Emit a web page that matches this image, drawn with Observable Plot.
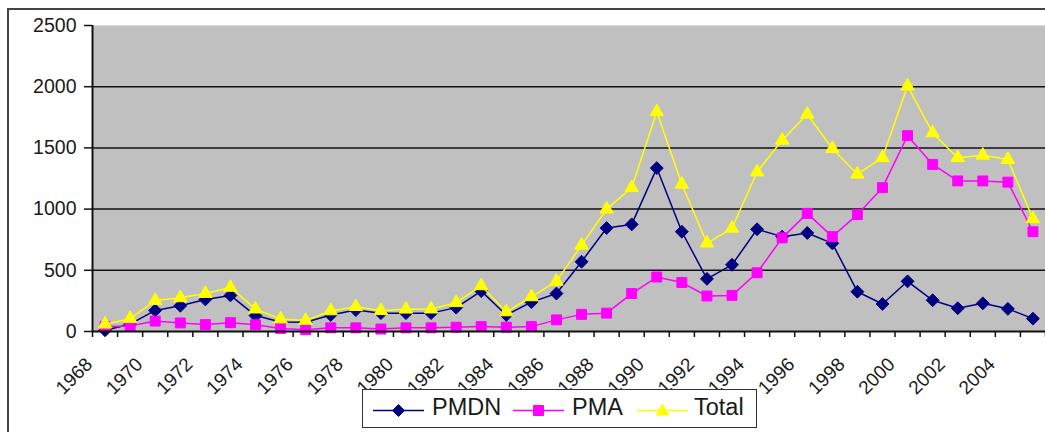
<!DOCTYPE html>
<html>
<head>
<meta charset="utf-8">
<script src="https://cdn.jsdelivr.net/npm/d3@7"></script>
<script src="https://cdn.jsdelivr.net/npm/@observablehq/plot@0.6"></script>
<style>
html, body { margin: 0; padding: 0; background: #fff; overflow: hidden; }
#wrap { position: relative; width: 1045px; height: 432px; overflow: hidden; font-family: "Liberation Sans", Arial, sans-serif; color: #1a1a1a; }
#frame { position: absolute; left: 7px; top: 8px; width: 1100px; height: 500px; border: 2px solid #444; box-sizing: border-box; }
#chart { position: absolute; left: 0; top: 0; }
#legend { position: absolute; left: 362px; top: 389px; width: 395px; height: 39px; border: 1.5px solid #333; box-sizing: border-box; background: #fff; }
#legend .sw { position: absolute; top: 10px; }
#legend .lb { position: absolute; top: 4px; font-size: 23.5px; line-height: 27px; color: #1a1a1a; white-space: nowrap; }
</style>
</head>
<body>
<div id="wrap">
  <div id="frame"></div>
  <div id="chart"></div>
  <div id="legend"></div>
</div>
<script>
// ---- data ----
const years = [1968, 1969, 1970, 1971, 1972, 1973, 1974, 1975, 1976, 1977,
               1978, 1979, 1980, 1981, 1982, 1983, 1984, 1985, 1986, 1987,
               1988, 1989, 1990, 1991, 1992, 1993, 1994, 1995, 1996, 1997,
               1998, 1999, 2000, 2001, 2002, 2003, 2004, 2005];
const pmdn = [10, 60, 172, 210, 262, 295, 130, 78, 75, 135,
              175, 150, 150, 150, 195, 330, 135, 240, 310, 570,
              845, 875, 1335, 815, 430, 545, 835, 775, 805, 720,
              325, 225, 410, 255, 190, 230, 185, 105];
const pma = [40, 45, 85, 70, 57, 72, 55, 25, 15, 30,
             30, 20, 30, 30, 35, 40, 35, 40, 95, 140,
             150, 310, 445, 400, 290, 295, 480, 765, 965, 775,
             955, 1175, 1600, 1365, 1230, 1230, 1220, 815];
const total = [60, 105, 253, 275, 310, 360, 183, 102, 90, 168,
               203, 170, 182, 183, 235, 373, 160, 283, 410, 705,
               1000, 1175, 1795, 1203, 722, 843, 1303, 1562, 1775, 1495,
               1285, 1420, 2005, 1622, 1420, 1440, 1405, 920];
const seriesNames = ["PMDN", "PMA", "Total"];
const yTicks = [0, 500, 1000, 1500, 2000, 2500];
const gridLines = [500, 1000, 1500, 2000];
const xLabels = [1968, 1970, 1972, 1974, 1976, 1978, 1980, 1982, 1984, 1986,
                 1988, 1990, 1992, 1994, 1996, 1998, 2000, 2002, 2004];

// ---- styles ----
const styles = {
  PMDN:  {color: "#000080", symbol: "diamond2", r: 5.8},
  PMA:   {color: "#FF00FF", symbol: "square",   r: 5.6},
  Total: {color: "#FFFF00", symbol: "triangle", r: 5.0}
};
const valuesBySeries = {PMDN: pmdn, PMA: pma, Total: total};

const boundaries = years.map(y => y - 0.5).concat([years[years.length - 1] + 0.5]);

const seriesMarks = seriesNames.flatMap(name => {
  const rows = years.map((y, i) => ({year: y, value: valuesBySeries[name][i]}));
  const s = styles[name];
  return [
    Plot.line(rows, {x: "year", y: "value", stroke: s.color, strokeWidth: 1.5}),
    Plot.dot(rows, {x: "year", y: "value", symbol: s.symbol, r: s.r, fill: s.color, stroke: s.color, strokeWidth: 1})
  ];
});

const chart = Plot.plot({
  width: 1045,
  height: 390,
  marginTop: 25,
  marginBottom: 59,
  marginLeft: 92,
  marginRight: 0,
  style: {fontFamily: "Liberation Sans, Arial, sans-serif", fontSize: "19px", color: "#1a1a1a", background: "transparent", overflow: "visible"},
  x: {domain: [boundaries[0], boundaries[boundaries.length - 1]], label: null},
  y: {domain: [0, 2500], label: null},
  marks: [
    Plot.frame({fill: "#C0C0C0", stroke: "none"}),
    Plot.ruleY(gridLines, {stroke: "#111", strokeWidth: 1.5}),
    ...seriesMarks,
    Plot.ruleY([0], {stroke: "#111", strokeWidth: 2}),
    Plot.ruleX([boundaries[0]], {stroke: "#111", strokeWidth: 2}),
    Plot.axisY({ticks: yTicks, tickFormat: d => String(d), tickSize: 8, tickPadding: 8, fontSize: 19.5, label: null, stroke: "#111", strokeWidth: 1.5}),
    Plot.axisX({ticks: boundaries, tickSize: 6, tickFormat: () => "", label: null, stroke: "#111", strokeWidth: 1.5}),
    Plot.text(xLabels, {x: d => d - 0.5, frameAnchor: "bottom", dx: 1, dy: 34, rotate: -45, textAnchor: "end", text: d => String(d), fontSize: 19, fill: "#1a1a1a"})
  ]
});
document.getElementById("chart").appendChild(chart);

// ---- legend ----
const legend = document.getElementById("legend");
const legendPos = {PMDN: [10, 69], PMA: [150, 209], Total: [274, 331]};
const symPath = {
  PMDN: "M25.5,14.5 L31.5,20.5 L25.5,26.5 L19.5,20.5 Z",
  PMA: "M20.5,15.5 L30.5,15.5 L30.5,25.5 L20.5,25.5 Z",
  Total: "M25.5,14 L31.5,25 L19.5,25 Z"
};
seriesNames.forEach(name => {
  const s = styles[name];
  const [lx, tx] = legendPos[name];
  const svg = document.createElementNS("http://www.w3.org/2000/svg", "svg");
  svg.setAttribute("width", 52);
  svg.setAttribute("height", 30);
  svg.setAttribute("class", "sw");
  svg.style.left = lx + "px";
  svg.style.top = "0px";
  svg.innerHTML = `<line x1="0" y1="20.5" x2="51" y2="20.5" stroke="${s.color}" stroke-width="1.5"/>` +
                  `<path d="${symPath[name]}" fill="${s.color}" stroke="${s.color}"/>`;
  legend.appendChild(svg);
  const lb = document.createElement("span");
  lb.className = "lb";
  lb.style.left = tx + "px";
  lb.textContent = name;
  legend.appendChild(lb);
});
</script>
</body>
</html>
